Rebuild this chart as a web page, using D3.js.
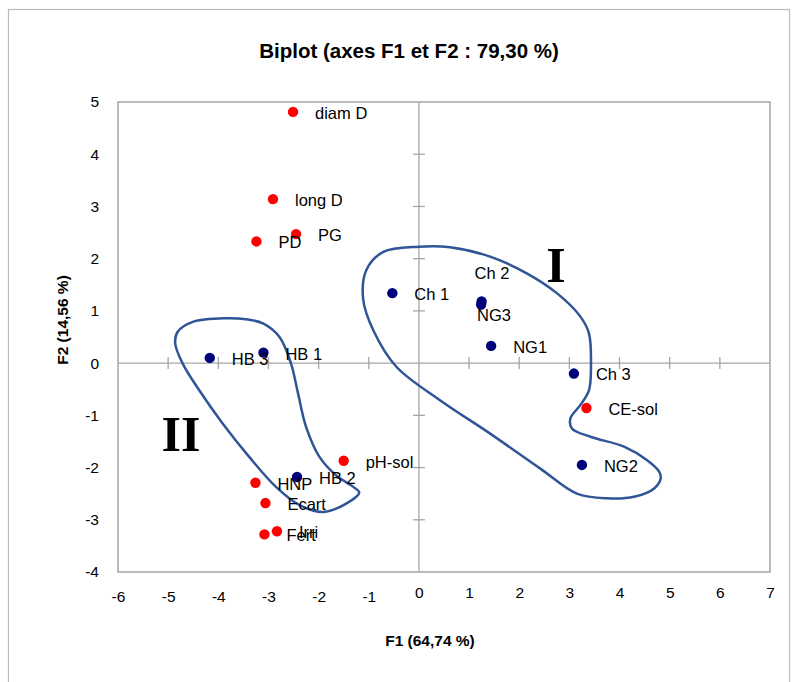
<!DOCTYPE html>
<html lang="fr">
<head>
<meta charset="utf-8">
<script src="https://d3js.org/d3.v7.min.js"></script>
<style>
  body { margin: 0; background: #fff; }
  text { font-family: "Liberation Sans", Arial, sans-serif; }
</style>
</head>
<body>
<script>
// variables (red points)
const varNames = ["diam D", "long D", "PG", "PD", "pH-sol", "HNP", "Ecart", "Irri", "Fert", "CE-sol"];
const varF1 = [-2.51, -2.91, -2.45, -3.24, -1.50, -3.26, -3.06, -2.83, -3.08, 3.34];
const varF2 = [4.81, 3.14, 2.47, 2.33, -1.87, -2.29, -2.68, -3.22, -3.28, -0.86];

// observations (dark blue points)
const obsNames = ["Ch 1", "Ch 2", "NG3", "NG1", "Ch 3", "NG2", "HB 3", "HB 1", "HB 2"];
const obsF1 = [-0.53, 1.25, 1.24, 1.44, 3.09, 3.25, -4.17, -3.10, -2.43];
const obsF2 = [1.34, 1.18, 1.12, 0.33, -0.20, -1.95, 0.10, 0.20, -2.18];

// tick values
const xTicks = [-6, -5, -4, -3, -2, -1, 0, 1, 2, 3, 4, 5, 6, 7];
const yTicks = [-4, -3, -2, -1, 0, 1, 2, 3, 4, 5];

// hand drawn groups, in F1/F2 units
const groupI = [[0, 2.23], [0.62, 2.22], [1.42, 2.04], [2.15, 1.72], [2.75, 1.34], [3.22, 0.89],
  [3.39, 0.57], [3.43, -0.07], [3.39, -0.52], [3.22, -0.80], [3.02, -1.06], [3.05, -1.25],
  [3.42, -1.41], [4.09, -1.60], [4.55, -1.86], [4.79, -2.08], [4.82, -2.21], [4.69, -2.40],
  [4.29, -2.56], [3.75, -2.59], [3.15, -2.50], [2.42, -2.02], [1.42, -1.35], [0.42, -0.71],
  [-0.45, -0.07], [-0.91, 0.63], [-1.11, 1.21], [-1.05, 1.78], [-0.71, 2.13]];
const groupII = [[-3.85, 0.86], [-3.45, 0.84], [-3.11, 0.76], [-2.78, 0.50], [-2.55, -0.01],
  [-2.41, -0.58], [-2.25, -1.22], [-1.98, -1.80], [-1.65, -2.15], [-1.31, -2.37], [-1.19, -2.48],
  [-1.45, -2.69], [-1.91, -2.85], [-2.38, -2.72], [-2.85, -2.37], [-3.38, -1.80], [-3.91, -1.16],
  [-4.38, -0.52], [-4.71, -0.01], [-4.86, 0.38], [-4.81, 0.60], [-4.51, 0.79]];

// labels that Excel moved away from the default spot
const labelShift = { "Ch 2": [-7, -28], "NG3": [-4, 10] };

const W = 795, H = 682;
const svg = d3.select("body").append("svg")
  .attr("width", W).attr("height", H);

// chart border
svg.append("rect")
  .attr("x", 8.5).attr("y", 9.5).attr("width", 781).attr("height", 700)
  .attr("fill", "none").attr("stroke", "#bcbcbc").attr("stroke-width", 1.2);

const x = d3.scaleLinear().domain([-6, 7]).range([118, 770]);
const y = d3.scaleLinear().domain([-4, 5]).range([572, 102]);

// plot frame
svg.append("rect")
  .attr("x", x(-6)).attr("y", y(5))
  .attr("width", x(7) - x(-6)).attr("height", y(-4) - y(5))
  .attr("fill", "none").attr("stroke", "#a6a6a6").attr("stroke-width", 1.5);

// zero lines with crossing ticks
svg.append("line")
  .attr("x1", x(-6)).attr("x2", x(7)).attr("y1", y(0)).attr("y2", y(0))
  .attr("stroke", "#a6a6a6").attr("stroke-width", 1.3);
svg.append("line")
  .attr("x1", x(0)).attr("x2", x(0)).attr("y1", y(5)).attr("y2", y(-4))
  .attr("stroke", "#a6a6a6").attr("stroke-width", 1.3);

svg.selectAll(".xt").data(xTicks.filter(d => d > -6 && d < 7 && d != 0)).enter()
  .append("line")
  .attr("x1", d => x(d)).attr("x2", d => x(d))
  .attr("y1", y(0) - 6).attr("y2", y(0) + 6)
  .attr("stroke", "#a6a6a6").attr("stroke-width", 1.3);
svg.selectAll(".yt").data(yTicks.filter(d => d > -4 && d < 5 && d != 0)).enter()
  .append("line")
  .attr("y1", d => y(d)).attr("y2", d => y(d))
  .attr("x1", x(0) - 6).attr("x2", x(0) + 6)
  .attr("stroke", "#a6a6a6").attr("stroke-width", 1.3);

// tick labels (low position), plain hyphen for the minus like Excel
const xAxis = svg.append("g")
  .attr("transform", "translate(0," + 586 + ")")
  .call(d3.axisBottom(x).tickValues(xTicks).tickSize(0).tickPadding(0).tickFormat(d => String(d)));
xAxis.select(".domain").remove();
xAxis.selectAll("text")
  .attr("font-family", "Liberation Sans, Arial, sans-serif")
  .attr("font-size", 15.5).attr("fill", "#000")
  .attr("dy", d => d < 0 ? "1.05em" : "0.8em");

const yAxis = svg.append("g")
  .attr("transform", "translate(" + 99 + ",0)")
  .call(d3.axisLeft(y).tickValues(yTicks).tickSize(0).tickPadding(0).tickFormat(d => String(d)));
yAxis.select(".domain").remove();
yAxis.selectAll("text")
  .attr("font-family", "Liberation Sans, Arial, sans-serif")
  .attr("font-size", 15.5).attr("fill", "#000");

// group outlines
const outline = d3.line()
  .x(d => x(d[0])).y(d => y(d[1]))
  .curve(d3.curveCatmullRomClosed.alpha(0.5));
svg.selectAll(".grp").data([groupI, groupII]).enter()
  .append("path")
  .attr("d", outline)
  .attr("fill", "none").attr("stroke", "#2f5597").attr("stroke-width", 2.5);

// group names
svg.append("text").attr("x", 556).attr("y", 282)
  .attr("text-anchor", "middle")
  .style("font-family", "Liberation Serif, Times New Roman, serif")
  .attr("font-weight", "bold").attr("font-size", 50).text("I");
svg.append("text").attr("x", 181).attr("y", 451)
  .attr("text-anchor", "middle")
  .style("font-family", "Liberation Serif, Times New Roman, serif")
  .attr("font-weight", "bold").attr("font-size", 50).text("II");

// points
const obs = obsNames.map((n, i) => ({ name: n, f1: obsF1[i], f2: obsF2[i] }));
const vars = varNames.map((n, i) => ({ name: n, f1: varF1[i], f2: varF2[i] }));

function drawSeries(data, color) {
  svg.append("g").selectAll("circle").data(data).enter()
    .append("circle")
    .attr("cx", d => x(d.f1)).attr("cy", d => y(d.f2))
    .attr("r", 5.2).attr("fill", color);
  svg.append("g").selectAll("text").data(data).enter()
    .append("text")
    .attr("x", d => x(d.f1) + (labelShift[d.name] ? labelShift[d.name][0] : 22))
    .attr("y", d => y(d.f2) + (labelShift[d.name] ? labelShift[d.name][1] : 1))
    .attr("dy", "0.36em")
    .attr("font-size", 16.5).attr("fill", "#000")
    .text(d => d.name);
}
drawSeries(obs, "#00007a");
drawSeries(vars, "#ff0000");

// titles
svg.append("text").attr("x", 409).attr("y", 58)
  .attr("text-anchor", "middle").attr("font-weight", "bold").attr("font-size", 20.5)
  .text("Biplot (axes F1 et F2 : 79,30 %)");
svg.append("text").attr("x", 430).attr("y", 646)
  .attr("text-anchor", "middle").attr("font-weight", "bold").attr("font-size", 15.5)
  .text("F1 (64,74 %)");
svg.append("text")
  .attr("transform", "translate(" + 68 + "," + 320 + ") rotate(-90)")
  .attr("text-anchor", "middle").attr("font-weight", "bold").attr("font-size", 15.5)
  .text("F2 (14,56 %)");
</script>
</body>
</html>
